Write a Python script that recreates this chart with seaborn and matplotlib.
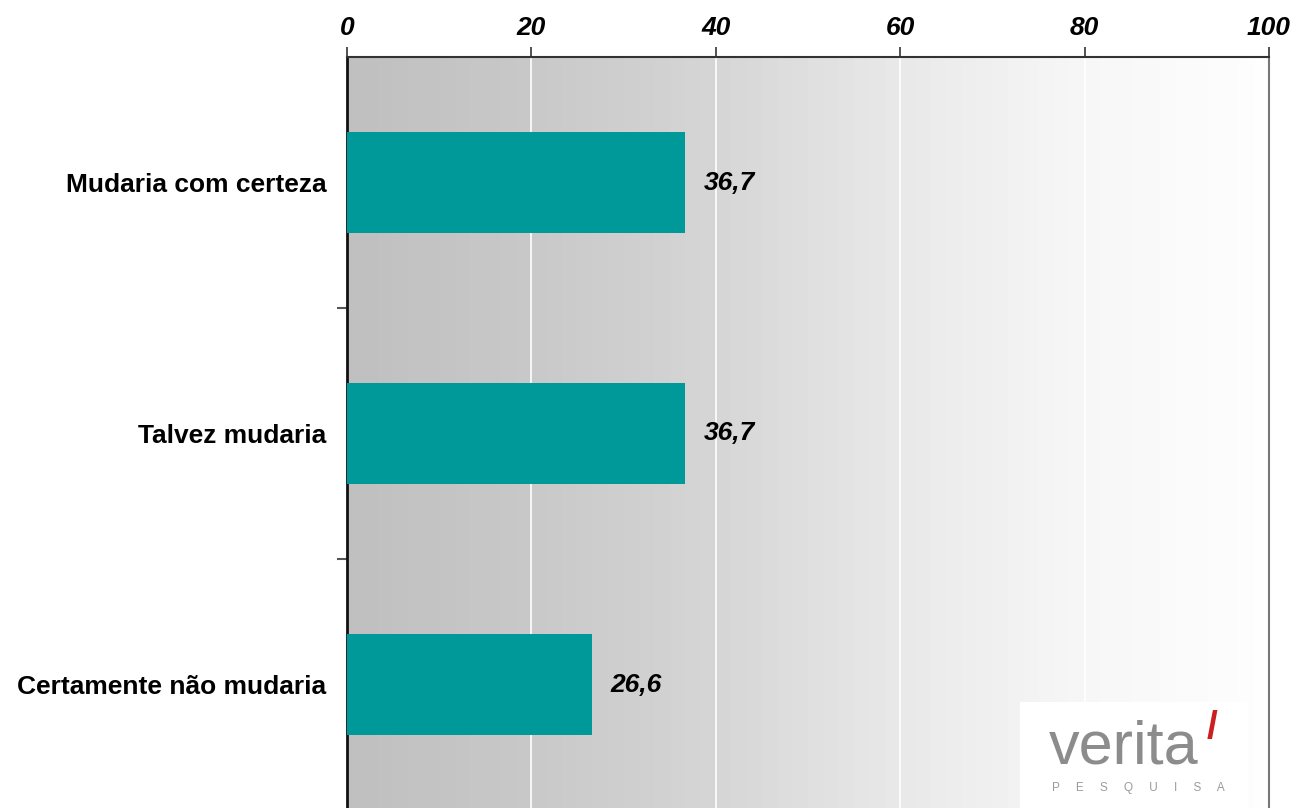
import numpy as np
import pandas as pd
import matplotlib
matplotlib.use("Agg")
import matplotlib.pyplot as plt
import seaborn as sns
from matplotlib.patches import Rectangle

categories = ["Mudaria com certeza", "Talvez mudaria", "Certamente não mudaria"]
values = [36.7, 36.7, 26.6]
xticks = [0, 20, 40, 60, 80, 100]

sns.set_theme(style="white")
plt.rcParams['font.family'] = ['Liberation Sans', 'DejaVu Sans']

df = pd.DataFrame({"cat": categories, "val": values})

fig = plt.figure(figsize=(13.11, 8.08), dpi=100)
ax = fig.add_axes([347/1311, 1 - 810/808, (1269-347)/1311, (810-57)/808])

# gradient background
grad = np.linspace(0, 1, 60).reshape(1, -1)
cmap = matplotlib.colors.LinearSegmentedColormap.from_list(
    "g", ["#c0c0c0", "#c9c9c9", "#d6d6d6", "#e9e9e9", "#f7f7f7", "#fefefe"])
ax.imshow(grad, extent=[0, 100, 2.5, -0.5], aspect="auto", cmap=cmap, zorder=0, interpolation="nearest")

sns.barplot(data=df, x="val", y="cat", orient="h", color="#009999", width=0.4,
            saturation=1, linewidth=0, ax=ax, zorder=3)

ax.set_xlim(0, 100)
ax.set_ylim(2.5, -0.5)
for x in xticks[1:-1]:
    ax.axvline(x, color="white", lw=1.2, zorder=1)

ax.xaxis.tick_top()
ax.set_xticks(xticks)
ax.set_xticklabels([str(t) for t in xticks], fontsize=19, fontweight="bold", fontstyle="italic", color="black")
ax.tick_params(axis="x", which="major", direction="out", length=7, width=1.2, color="#333333", pad=5, top=True, bottom=False)

ax.set_yticks(range(len(categories)))
ax.set_yticklabels(categories, fontsize=19, fontweight="bold", color="black")
ax.set_yticks([0.5, 1.5], minor=True)
ax.tick_params(axis="y", which="major", length=0, pad=15)
ax.tick_params(axis="y", which="minor", direction="out", length=7, width=1.5, color="#555555", left=True)
ax.set_xlabel("")
ax.set_ylabel("")

ax.spines["bottom"].set_visible(False)
ax.spines["left"].set_color("#111111")
ax.spines["left"].set_linewidth(2)
ax.spines["top"].set_color("#333333")
ax.spines["top"].set_linewidth(1.5)
ax.spines["right"].set_color("#777777")
ax.spines["right"].set_linewidth(1.5)

for i, v in enumerate(values):
    ax.text(v + 2, i, f"{v:.1f}".replace(".", ","), va="center", ha="left",
            fontsize=19, fontweight="bold", fontstyle="italic", color="black", zorder=4)

# logo
fig.patches.append(Rectangle((1020/1311, 0), (1248-1020)/1311, (808-702)/808,
                             transform=fig.transFigure, facecolor="white", edgecolor="none", zorder=5))
fig.text(1124/1311, 1 - 748/808, "verita", fontsize=44, color="#8c8c8c", ha="center", va="center", zorder=6)
fig.text(1212/1311, 1 - 728/808, "/", fontsize=28, color="#cc1f1f", ha="center", va="center",
         fontweight="bold", zorder=7)
fig.text(1138/1311, 1 - 788/808, "P     E     S     Q     U     I     S     A", fontsize=8.5, color="#9a9a9a",
         ha="center", va="center", zorder=6)

fig.savefig("out.png", dpi=100)
